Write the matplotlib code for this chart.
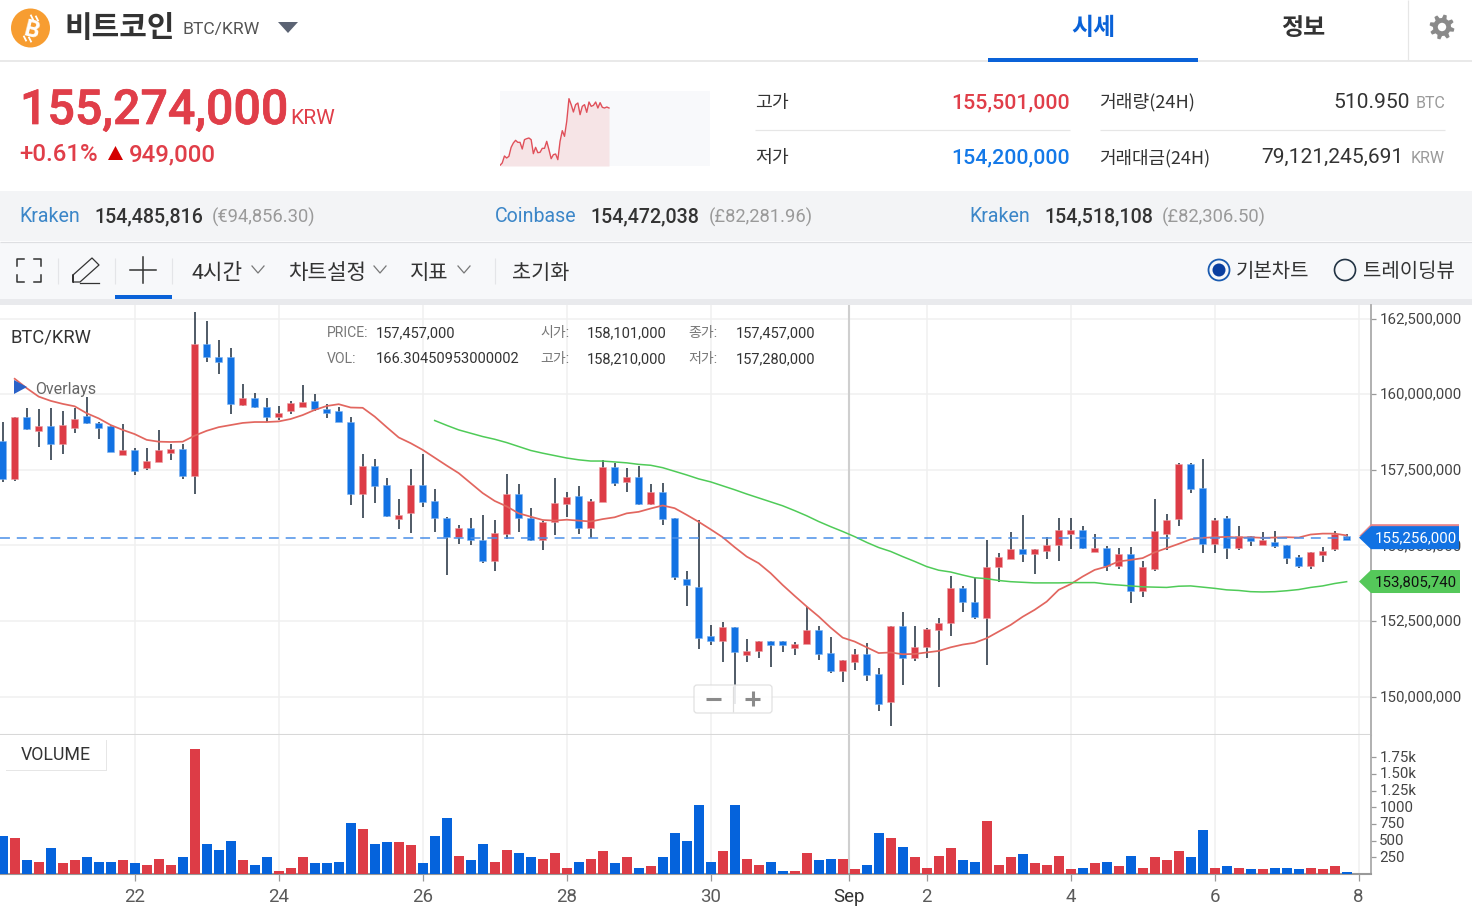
import numpy as np
import matplotlib
matplotlib.use("Agg")
import matplotlib.pyplot as plt
import matplotlib.patheffects as pe
from matplotlib.patches import Rectangle, Polygon, Circle, FancyBboxPatch
from matplotlib.transforms import ScaledTranslation

# --- Data (prices in million KRW, one candle = 4h) ---
opens = [158.46,157.20,159.23,158.79,158.94,158.35,158.89,159.28,159.04,158.94,
         157.99,158.15,157.55,157.75,158.05,158.19,157.30,161.66,161.22,161.22,
         159.63,159.88,159.58,159.24,159.44,159.58,159.78,159.52,159.43,159.08,
         156.71,157.64,157.00,155.87,156.06,157.00,156.46,155.91,155.27,155.57,
         155.17,154.48,155.37,156.70,155.92,155.17,155.77,156.36,156.65,155.57,
         156.42,157.60,157.11,157.25,156.36,156.76,155.91,153.88,153.63,151.99,
         151.85,152.29,151.36,151.50,151.84,151.84,151.60,151.74,152.19,151.44,
         150.85,151.16,151.40,150.75,149.81,152.34,151.26,151.64,152.20,152.44,
         153.58,153.13,152.59,154.28,154.56,154.87,154.73,154.83,155.02,155.37,
         155.51,154.77,154.92,154.33,154.72,153.48,154.23,155.37,155.87,157.70,
         156.90,155.03,155.91,154.93,155.31,155.02,155.12,155.02,154.62,154.33,
         154.67,154.87,155.31]
closes = [157.20,159.23,158.84,158.94,158.35,158.98,159.18,159.04,158.89,158.09,
          158.15,157.45,157.79,158.15,158.19,157.30,161.66,161.22,161.07,159.68,
          159.88,159.58,159.24,159.38,159.72,159.73,159.52,159.38,159.08,156.71,
          157.64,156.96,155.97,156.01,157.00,156.42,155.92,155.27,155.57,155.17,
          154.48,155.41,156.70,155.92,155.17,155.77,156.41,156.60,155.57,156.46,
          157.60,157.07,157.25,156.36,156.76,155.87,153.94,153.68,151.95,151.85,
          152.29,151.46,151.50,151.84,151.70,151.70,151.74,152.19,151.40,150.85,
          151.20,151.40,150.71,149.77,152.34,151.26,151.64,152.24,152.44,153.58,
          153.13,152.63,154.28,154.62,154.87,154.73,154.87,155.02,155.51,155.51,
          154.92,154.92,154.33,154.72,153.48,154.28,155.46,155.85,157.70,156.86,
          155.03,155.85,154.93,155.31,155.13,155.17,154.97,154.58,154.33,154.77,
          154.82,155.37,155.17]
highs = [159.09,159.23,159.56,159.51,159.56,159.45,159.56,159.90,159.09,158.98,
         159.01,158.21,158.21,158.81,158.35,158.35,162.73,162.43,161.78,161.54,
         160.35,160.05,159.86,159.60,159.76,160.31,160.01,159.66,159.58,159.26,
         158.03,157.87,157.23,156.54,157.53,158.03,156.88,155.93,155.69,155.89,
         155.99,155.84,157.37,157.03,156.24,155.82,157.23,156.78,156.98,156.54,
         157.81,157.74,157.57,157.63,157.03,157.08,155.91,154.16,155.84,152.37,
         152.47,152.29,151.92,151.84,151.84,151.84,151.79,152.97,152.32,151.97,
         151.22,151.58,151.78,150.93,152.34,152.81,152.32,152.26,152.61,154.00,
         153.66,153.91,155.18,154.75,155.44,155.99,154.87,155.29,155.89,155.89,
         155.65,155.39,154.97,154.90,154.94,154.49,156.53,156.04,157.72,157.72,
         157.86,155.92,155.97,155.65,155.31,155.45,155.49,155.02,154.69,154.79,
         154.94,155.49,155.39]
lows = [157.09,157.13,158.81,158.27,157.83,158.03,158.72,159.01,158.52,158.08,
        157.99,157.33,157.49,157.75,157.83,157.18,156.69,161.05,160.66,159.36,
        159.62,159.56,159.07,159.16,159.36,159.58,159.43,159.20,159.07,156.34,
        155.90,156.40,155.95,155.53,155.40,156.28,155.45,154.01,155.05,155.00,
        154.41,154.16,155.20,155.45,155.15,154.85,155.35,155.94,155.39,155.24,
        156.42,156.98,156.78,156.33,156.33,155.69,153.86,153.01,151.58,151.72,
        151.13,149.75,151.13,151.28,150.98,151.48,151.38,151.74,151.22,150.78,
        150.49,150.88,150.53,149.54,149.04,150.39,151.18,151.28,150.33,152.02,
        152.81,152.57,151.03,153.80,154.54,154.45,154.05,154.54,154.50,154.88,
        154.88,154.77,154.15,154.23,153.11,153.31,154.15,154.85,155.65,156.73,
        154.74,154.74,154.54,154.84,154.98,155.02,154.91,154.39,154.25,154.23,
        154.44,154.80,155.17]
volumes = [565,545,205,185,385,160,205,250,185,185,
           205,160,140,230,140,250,1870,455,365,500,
           205,140,250,50,95,250,160,160,185,770,
           680,455,475,475,430,160,565,835,275,205,
           455,185,365,320,250,230,320,95,185,230,
           340,160,250,95,115,250,610,500,1040,185,
           340,1040,230,140,185,50,50,320,205,230,
           230,70,140,610,545,410,250,95,275,385,
           205,185,790,140,250,295,160,140,275,70,
           95,160,185,115,275,95,250,205,340,250,
           655,95,115,95,70,70,95,95,70,95,
           70,115,25]
# moving averages, fast one starts at candle 1, slow one at candle 36
ma_fast = [160.51,160.20,159.92,159.78,159.68,159.60,159.37,159.20,158.98,158.82,
           158.68,158.49,158.43,158.42,158.43,158.63,158.79,158.91,158.98,159.05,
           159.08,159.08,159.10,159.18,159.31,159.48,159.61,159.67,159.56,159.55,
           159.26,158.91,158.57,158.38,158.16,157.90,157.64,157.39,157.06,156.73,
           156.47,156.29,156.06,155.95,155.84,155.82,155.85,155.82,155.79,155.87,
           155.93,156.06,156.11,156.22,156.32,156.23,156.01,155.78,155.53,155.27,
           154.94,154.63,154.41,154.08,153.69,153.33,152.98,152.65,152.28,151.95,
           151.82,151.63,151.44,151.46,151.40,151.41,151.46,151.51,151.63,151.72,
           151.78,151.93,152.15,152.37,152.64,152.87,153.14,153.53,153.72,153.97,
           154.19,154.30,154.47,154.52,154.58,154.77,154.91,155.05,155.20,155.25,
           155.27,155.28,155.26,155.27,155.25,155.26,155.27,155.26,155.36,155.39,
           155.39,155.33]
ma_slow = [159.13,158.97,158.82,158.71,158.60,158.51,158.40,158.27,158.14,158.05,
           157.97,157.89,157.83,157.79,157.79,157.76,157.73,157.68,157.65,157.57,
           157.45,157.33,157.20,157.10,156.97,156.84,156.70,156.57,156.44,156.31,
           156.15,155.98,155.79,155.62,155.46,155.29,155.10,154.93,154.80,154.63,
           154.47,154.30,154.18,154.12,154.02,153.93,153.90,153.84,153.80,153.78,
           153.76,153.76,153.76,153.77,153.77,153.77,153.72,153.69,153.66,153.63,
           153.62,153.61,153.65,153.66,153.62,153.58,153.53,153.51,153.47,153.46,
           153.47,153.50,153.54,153.61,153.66,153.74,153.80]
last_price = 155.256
last_ma = 153.80574
price_ticks = [150, 152.5, 155, 157.5, 160, 162.5]
vol_ticks = [250, 500, 750, 1000, 1250, 1500, 1750]
vol_labels = ["250", "500", "750", "1000", "1.25k", "1.50k", "1.75k"]
day_pos = [11, 23, 35, 47, 59, 70.5, 77, 89, 101, 113]
day_labels = ["22", "24", "26", "28", "30", "Sep", "2", "4", "6", "8"]
spark = [2,9,30,24,29,56,69,77,71,71,51,79,82,84,79,37,56,40,41,53,53,74,49,22,34,
         36,19,74,106,89,134,202,184,162,184,189,154,179,184,161,192,179,182,192,
         174,190,176,174,177,174]

RED = "#dd3c46"
BLUE = "#1272e3"
LATIN = ["Roboto", "Noto Sans CJK KR", "DejaVu Sans"]
KR = ["Noto Sans CJK KR", "Roboto", "DejaVu Sans"]
W, H = 1472, 918

fig = plt.figure(figsize=(W / 100, H / 100), dpi=100, facecolor="white")

# --- pixel canvas under and over the chart ---
bg = fig.add_axes([0, 0, 1, 1], zorder=0)
ui = fig.add_axes([0, 0, 1, 1], zorder=5)
for a in (bg, ui):
    a.set_xlim(0, W)
    a.set_ylim(H, 0)
    a.axis("off")
ui.patch.set_alpha(0)


def txt(x, y, s, px, color="#333333", ha="left", weight="normal", fam=LATIN, heavy=0, **kw):
    t = ui.text(x, y, s, fontsize=px * 0.72, color=color, ha=ha, va="baseline",
                fontweight=weight, family=fam, **kw)
    # a touch more ink than the medium cut gives
    if heavy:
        t.set_path_effects([pe.withStroke(linewidth=heavy, foreground=color)])
    return t


def hline(a, x0, x1, y, color, lw=1.0):
    a.plot([x0, x1], [y, y], color=color, lw=lw * 0.72, solid_capstyle="butt")


def vline(a, x, y0, y1, color, lw=1.0):
    a.plot([x, x], [y0, y1], color=color, lw=lw * 0.72, solid_capstyle="butt")


def chevron(x, y):
    ui.plot([x - 6, x, x + 6], [y - 3, y + 4, y - 3], color="#777777", lw=0.9)


# --- header ---
hline(bg, 0, W, 60.5, "#e2e2e2", 1.5)
vline(bg, 1408, 0, 60, "#e6e6e6", 1.2)
bg.add_patch(Circle((30.5, 28), 19.5, color="#f7931a", alpha=0.9, lw=0))
txt(30, 36.5, "B", 24, "white", ha="center", weight="bold", rotation=-14,
    rotation_mode="anchor")
ui.plot([31, 33], [15.5, 19.5], color="white", lw=1.3)
ui.plot([36, 38], [16.5, 20.5], color="white", lw=1.3)
ui.plot([24, 26], [36.5, 40.5], color="white", lw=1.3)
ui.plot([29, 31], [37.5, 41.5], color="white", lw=1.3)
txt(64.5, 37, "비트코인", 30, "#333333", weight="bold", fam=KR)
txt(182, 34, "BTC/KRW", 17.5, "#555555")
ui.add_patch(Polygon([(278, 22), (298, 22), (288, 33)], color="#5b6373", lw=0))
txt(1093, 35, "시세", 24, "#0a62d8", ha="center", weight="bold", fam=KR)
txt(1303, 35, "정보", 24, "#333333", ha="center", weight="bold", fam=KR)
ui.add_patch(Rectangle((988, 58), 210, 4, color="#0a62d8", lw=0))
# gear icon
ang = np.linspace(0, 2 * np.pi, 49)[:-1]
rad = np.where((np.arange(48) % 6) < 3, 12.5, 9.0)
ui.add_patch(Polygon(np.c_[1442 + rad * np.cos(ang + 0.13), 27 + rad * np.sin(ang + 0.13)],
                     color="#8a8a8a", lw=0))
ui.add_patch(Circle((1442, 27), 4.2, color="white", lw=0))

# --- price block ---
txt(20, 124, "155,274,000", 48.3, "#e03e49", weight="medium", heavy=0.5)
txt(290, 124, "KRW", 21, "#e03e49")
txt(19.5, 161, "+0.61%", 24, "#e03e49", weight="medium")
ui.add_patch(Polygon([(108, 160), (123, 160), (115.5, 146)], color="#d40000", lw=0))
txt(128.5, 161, "949,000", 24, "#e03e49", weight="medium")

sp = fig.add_axes([500 / W, 1 - 166 / H, 210 / W, 75 / H], zorder=1)
sp.set_facecolor("#f8f9fb")
sp.set_xlim(0, 94.4)
sp.set_ylim(0, 225)
sp.fill_between(range(len(spark)), 0, spark, color="#f6e4e6", lw=0)
sp.plot(range(len(spark)), spark, color="#e0505a", lw=1.0)
sp.axis("off")
bg.add_patch(Rectangle((500, 91), 210, 75, color="#f8f9fb", lw=0))

txt(755, 108, "고가", 18.3, fam=KR)
txt(755, 163, "저가", 18.3, fam=KR)
txt(1070, 108, "155,501,000", 21.4, "#e03e49", ha="right", weight="medium")
txt(1070, 163, "154,200,000", 21.4, "#1479e8", ha="right", weight="medium")
hline(bg, 755, 1070, 129.5, "#e6e6e6", 1.2)
hline(bg, 1100, 1445, 129.5, "#e6e6e6", 1.2)
txt(1099, 107, "거래량(24H)", 18.2, fam=KR)
txt(1099, 163, "거래대금(24H)", 18, fam=KR)
txt(1410, 108, "510.950", 21, ha="right")
txt(1445, 108, "BTC", 16, "#9a9a9a", ha="right")
txt(1404, 163, "79,121,245,691", 21, ha="right")
txt(1445, 163, "KRW", 16, "#9a9a9a", ha="right")

# --- exchange band ---
bg.add_patch(Rectangle((0, 191), W, 50, color="#f3f4f6", lw=0))
hline(bg, 0, W, 241.5, "#dedfe2", 1.2)
exch = [(20, 95, 212, "Kraken", "154,485,816", "(€94,856.30)"),
        (495, 591, 709, "Coinbase", "154,472,038", "(£82,281.96)"),
        (970, 1045, 1162, "Kraken", "154,518,108", "(£82,306.50)")]
for x0, x1, x2, name, val, quote in exch:
    txt(x0 - 0.5, 222, name, 19.6, "#3b86c8")
    txt(x1 - 1, 222, val, 19.7, "#333333", weight="medium")
    txt(x2, 223, quote, 18.4, "#9a9a9a")

# --- toolbar ---
bg.add_patch(Rectangle((0, 242), W, 57, color="#f7f8fa", lw=0))
bg.add_patch(Rectangle((0, 299), W, 6, color="#e9eaed", lw=0))
for (cx, cy, dx, dy) in [(17, 259, 1, 1), (41, 259, -1, 1), (17, 282, 1, -1), (41, 282, -1, -1)]:
    ui.plot([cx + 7 * dx, cx, cx], [cy, cy, cy + 7 * dy], color="#333333", lw=1.1)
for x in (58, 115, 172, 495):
    vline(ui, x, 258, 284, "#e4e5e8", 1.2)
ui.plot([73, 73, 92, 99, 80, 73, 73], [282, 275, 258, 265, 282, 282, 275], color="#333333", lw=0.9)
ui.plot([80, 99], [282.5, 282.5], color="#333333", lw=0.9)
ui.plot([143, 143], [257, 283], color="#333333", lw=1.1)
ui.plot([130, 156], [270, 270], color="#333333", lw=1.1)
ui.add_patch(Rectangle((115, 295), 57, 4, color="#0a62d8", lw=0))
txt(192, 279, "4시간", 21.3, fam=LATIN)
chevron(258, 269)
txt(288, 279, "차트설정", 21.2, fam=KR)
chevron(380, 269)
txt(410, 279, "지표", 21, fam=KR)
chevron(464, 269)
txt(512, 279, "초기화", 20.8, fam=KR)
ui.add_patch(Circle((1219, 270), 10.5, fill=False, ec="#1a5bb0", lw=1.3))
ui.add_patch(Circle((1219, 270), 6.5, color="#0b3fa0", lw=0))
txt(1236, 277, "기본차트", 20, fam=KR)
ui.add_patch(Circle((1345, 270), 10.5, fill=False, ec="#223344", lw=1.2))
txt(1363, 277, "트레이딩뷰", 20, fam=KR)

# --- price pane ---
x_left = -0.225
x_right = 114.03
ax = fig.add_axes([0, 1 - 735 / H, 1371 / W, 430 / H], zorder=2)
ax2 = fig.add_axes([0, 1 - 874 / H, 1371 / W, 139 / H], zorder=2)
idx = np.arange(len(closes))
colors = [RED if c >= o else BLUE for o, c in zip(opens, closes)]
edge = ["#eda0a5" if c == RED else "#7fb3f0" for c in colors]

ax.vlines(idx, lows, highs, color="#1f2d3d", lw=1.1, zorder=3)
body_low = np.minimum(opens, closes)
body_h = np.abs(np.array(closes) - np.array(opens))
ax.bar(idx, body_h, 0.62, bottom=body_low, color=colors, edgecolor=edge, lw=0.4, zorder=4)
ax.plot(np.arange(1, 113), ma_fast, color="#e2665f", lw=1.25, zorder=5)
ax.plot(np.arange(36, 113), ma_slow, color="#4fcb58", lw=1.1, zorder=5)
ax.plot([x_left, 112.2], [last_price, last_price], color="#4a8fe8", lw=1.1,
        dashes=(6.5, 4.5), zorder=6)

ax.set_xlim(x_left, x_right)
ax.set_ylim(148.73, 162.95)
ax.set_yticks(price_ticks)
ax.set_yticklabels([f"{v * 1e6:,.0f}" for v in price_ticks], family=LATIN, fontsize=10.8,
                   color="#444444")
ax.yaxis.tick_right()
ax.set_xticks(day_pos)
ax.tick_params(axis="x", length=0, labelbottom=False)
ax.tick_params(axis="y", length=3.6, width=0.9, color="#999999", pad=2.4)
ax.grid(True, color="#f0f0f0", lw=1.1, zorder=0)
ax.set_axisbelow(True)
ax.axvline(70.5, color="#cfcfcf", lw=1.5, zorder=1)
for s in ("top", "left"):
    ax.spines[s].set_visible(False)
ax.spines["right"].set_color("#aaaaaa")
ax.spines["right"].set_linewidth(1.3)
ax.spines["bottom"].set_color("#d8d8d8")
ax.spines["bottom"].set_linewidth(1.5)

# --- volume pane ---
ax2.bar(idx, volumes, 0.84, color=["#dd3c46" if c == RED else "#0563dc" for c in colors], zorder=3)
ax2.set_xlim(x_left, x_right)
ax2.set_ylim(0, 2085)
ax2.set_yticks(vol_ticks)
ax2.set_yticklabels(vol_labels, family=LATIN, fontsize=10.8, color="#444444")
ax2.yaxis.tick_right()
ax2.set_xticks(day_pos)
ax2.set_xticklabels(day_labels, family=LATIN, fontsize=13.4, color="#5a5a5a")
ax2.get_xticklabels()[5].set_color("#333333")
ax2.tick_params(axis="x", length=5, width=0.9, color="#999999", pad=5)
ax2.tick_params(axis="y", length=3.6, width=0.9, color="#999999", pad=2.4)
ax2.grid(True, axis="x", color="#f0f0f0", lw=1.1, zorder=0)
ax2.set_axisbelow(True)
ax2.axvline(70.5, color="#cfcfcf", lw=1.5, zorder=1)
for s in ("top", "left"):
    ax2.spines[s].set_visible(False)
ax2.spines["right"].set_color("#aaaaaa")
ax2.spines["right"].set_linewidth(1.3)
ax2.spines["bottom"].set_color("#999999")
ax2.spines["bottom"].set_linewidth(1.5)

# labels sit a pixel above their ticks
nudge = ScaledTranslation(0, 1 / 100, fig.dpi_scale_trans)
for lab in ax.get_yticklabels() + ax2.get_yticklabels():
    lab.set_transform(lab.get_transform() + nudge)

# --- labels on top of the chart ---
txt(11, 343, "BTC/KRW", 18.4, "#333333")
ui.add_patch(Polygon([(14, 380), (14, 394), (27, 387)], color="#2a62c8", lw=0))
txt(35, 394, "Overlays", 16, "#666666")
for x, y, s in [(327, 337, "PRICE:"), (327, 363, "VOL:"), (540, 337, "시가:"),
                (540, 363, "고가:"), (688, 337, "종가:"), (688, 363, "저가:")]:
    txt(x, y, s, 14, "#777777")
for x, y, s in [(376, 337, "157,457,000"), (376, 363, "166.30450953000002"),
                (587, 337, "158,101,000"), (587, 363, "158,210,000"),
                (736, 337, "157,457,000"), (736, 363, "157,280,000")]:
    txt(x, y, s, 14.6, "#333333")

# zoom control
ui.add_patch(FancyBboxPatch((695, 686), 76, 26, boxstyle="round,pad=1,rounding_size=3",
                            fc="white", ec="#dddddd", lw=0.9, alpha=0.88))
vline(ui, 733, 686, 712, "#dddddd", 1.2)
ui.plot([706, 721], [698.5, 698.5], color="#8a8a8a", lw=2.2, solid_capstyle="butt")
ui.plot([745, 760], [698.5, 698.5], color="#8a8a8a", lw=2.2, solid_capstyle="butt")
ui.plot([752.5, 752.5], [691, 706], color="#8a8a8a", lw=2.2, solid_capstyle="butt")

# volume label box
ui.add_patch(Rectangle((6, 740), 101, 31, fc="#e6e6e6", lw=0))
ui.add_patch(Rectangle((5, 738), 101, 32, fc="white", lw=0))
txt(55.5, 760, "VOLUME", 17.8, "#333333", ha="center")


# --- price tags, placed from the axis scale ---
def price_to_px(v):
    return H - ax.transData.transform((0, v))[1]


fig.canvas.draw()
for val, col, tcol, tag_right, label in [(last_price, BLUE, "white", 1459, "155,256,000"),
                                         (last_ma, "#55c85a", "#111111", 1460, "153,805,740")]:
    yc = price_to_px(val)
    if val == last_price:
        py = yc - 1.5
        ui.add_patch(Polygon([(1359, py), (1371, py - 12), (tag_right, py - 12),
                              (tag_right, py), (1371, py)], color="#e8858a", lw=0))
    ui.add_patch(Polygon([(1359, yc), (1371, yc - 11.5), (tag_right, yc - 11.5),
                          (tag_right, yc + 11.5), (1371, yc + 11.5)], color=col, lw=0))
    txt(1415.5, yc + 5, label, 15, tcol, ha="center")

fig.savefig("out.png", dpi=100)
